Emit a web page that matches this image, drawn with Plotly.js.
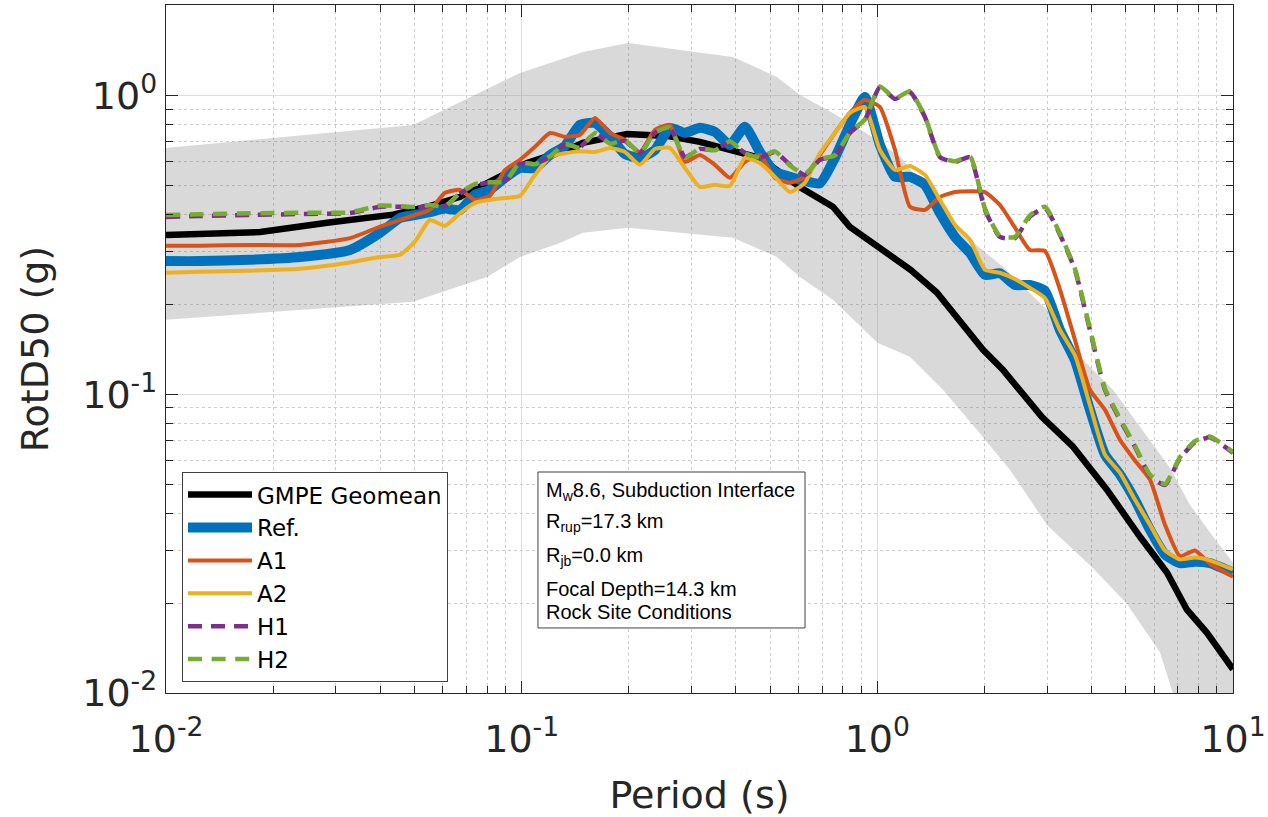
<!DOCTYPE html>
<html><head><meta charset="utf-8">
<script src="https://cdn.plot.ly/plotly-3.0.1.min.js"></script>
<style>html,body{margin:0;padding:0;background:#fff;} #chart{width:1268px;height:817px;}</style>
</head><body><div id="chart"></div>
<script>
// ---------- data ----------
const periods = [0.0100, 0.01246, 0.01722, 0.02381, 0.03291, 0.03998, 0.04549, 0.0501, 0.0552, 0.0609,
  0.0671, 0.0739, 0.0814, 0.0898, 0.0989, 0.1090, 0.1201, 0.1323, 0.1458, 0.1607,
  0.1771, 0.1951, 0.2150, 0.2370, 0.2611, 0.2877, 0.3171, 0.3494, 0.3850, 0.4243,
  0.4676, 0.5152, 0.5677, 0.6256, 0.6894, 0.7597, 0.8372, 0.9225, 1.017, 1.121,
  1.235, 1.361, 1.500, 1.653, 1.822, 2.007, 2.212, 2.438, 2.685, 2.959,
  3.262, 3.594, 3.960, 4.364, 4.809, 5.299, 5.840, 6.436, 7.092, 7.815, 8.612, 10.0];

const refVals = [0.279, 0.279, 0.282, 0.288, 0.304, 0.347, 0.389, 0.398, 0.407, 0.418,
  0.414, 0.465, 0.483, 0.530, 0.572, 0.572, 0.632, 0.677, 0.797, 0.809,
  0.729, 0.637, 0.618, 0.657, 0.779, 0.750, 0.779, 0.755, 0.683, 0.785,
  0.647, 0.555, 0.534, 0.517, 0.508, 0.618, 0.797, 0.989, 0.683, 0.534,
  0.534, 0.502, 0.404, 0.336, 0.297, 0.251, 0.254, 0.232, 0.232, 0.222,
  0.164, 0.130, 0.0887, 0.0628, 0.0539, 0.0444, 0.0352, 0.0291, 0.0272, 0.0275, 0.0272, 0.0253];

const a1Vals = [0.314, 0.314, 0.316, 0.316, 0.333, 0.364, 0.383, 0.398, 0.414, 0.472,
  0.483, 0.447, 0.461, 0.563, 0.609, 0.673, 0.749, 0.727, 0.738, 0.841,
  0.749, 0.710, 0.647, 0.767, 0.797, 0.599, 0.632, 0.586, 0.530, 0.599,
  0.632, 0.530, 0.510, 0.534, 0.632, 0.749, 0.874, 0.966, 0.914, 0.657,
  0.424, 0.414, 0.457, 0.475, 0.478, 0.475, 0.430, 0.361, 0.304, 0.302,
  0.224, 0.152, 0.1035, 0.0887, 0.0704, 0.0600, 0.0518, 0.0366, 0.0287, 0.0300, 0.0271, 0.0245];

const a2Vals = [0.255, 0.257, 0.259, 0.263, 0.276, 0.288, 0.293, 0.324, 0.383, 0.366,
  0.404, 0.437, 0.447, 0.454, 0.461, 0.542, 0.622, 0.641, 0.651, 0.647,
  0.667, 0.647, 0.586, 0.662, 0.667, 0.572, 0.494, 0.502, 0.498, 0.618,
  0.594, 0.534, 0.475, 0.510, 0.641, 0.749, 0.874, 0.914, 0.657, 0.563,
  0.581, 0.542, 0.447, 0.369, 0.329, 0.261, 0.255, 0.243, 0.227, 0.210,
  0.164, 0.135, 0.092, 0.0628, 0.0546, 0.0444, 0.0366, 0.0300, 0.0280, 0.0284, 0.0278, 0.0259];

const h1Vals = [0.392, 0.395, 0.398, 0.401, 0.404, 0.424, 0.424, 0.421, 0.427, 0.427,
  0.469, 0.502, 0.510, 0.517, 0.591, 0.591, 0.622, 0.683, 0.673, 0.744,
  0.694, 0.704, 0.642, 0.749, 0.779, 0.622, 0.662, 0.657, 0.699, 0.642,
  0.618, 0.647, 0.586, 0.542, 0.609, 0.627, 0.749, 0.828, 1.067, 0.973,
  1.027, 0.847, 0.622, 0.599, 0.622, 0.414, 0.336, 0.333, 0.393, 0.420,
  0.342, 0.261, 0.164, 0.1035, 0.0822, 0.0667, 0.0534, 0.0497, 0.0610, 0.0690, 0.0717, 0.0636];

const h2Vals = [0.398, 0.400, 0.403, 0.405, 0.406, 0.428, 0.426, 0.423, 0.430, 0.425,
  0.472, 0.505, 0.512, 0.515, 0.595, 0.588, 0.625, 0.688, 0.668, 0.748,
  0.690, 0.708, 0.640, 0.752, 0.782, 0.618, 0.665, 0.655, 0.702, 0.640,
  0.620, 0.650, 0.583, 0.545, 0.612, 0.630, 0.752, 0.832, 1.072, 0.978,
  1.032, 0.850, 0.625, 0.602, 0.626, 0.418, 0.338, 0.336, 0.397, 0.424,
  0.345, 0.263, 0.166, 0.1045, 0.0830, 0.0673, 0.0538, 0.0500, 0.0615, 0.0696, 0.0722, 0.0640];

const gmpePeriods = [0.01, 0.0184, 0.0284, 0.0435, 0.0542, 0.0672, 0.083, 0.1035, 0.134, 0.1485,
  0.198, 0.256, 0.317, 0.393, 0.468, 0.605, 0.75, 0.837, 1.0, 1.24, 1.47, 1.79, 1.98, 2.25,
  2.9, 3.55, 4.42, 5.47, 6.52, 7.42, 8.45, 10.0];
const gmpeVals = [0.341, 0.349, 0.375, 0.399, 0.424, 0.458, 0.521, 0.594, 0.657, 0.694,
  0.743, 0.732, 0.699, 0.657, 0.618, 0.494, 0.424, 0.363, 0.311, 0.261, 0.219, 0.164, 0.141, 0.121,
  0.084, 0.0667, 0.0479, 0.0334, 0.0253, 0.019, 0.0159, 0.012];

const bandUpperPeriods = [0.01, 0.0495, 0.0989, 0.1487, 0.199, 0.3926, 0.522, 0.606, 0.750, 1.0,
  1.180, 1.471, 1.822, 2.255, 2.998, 3.547, 4.596, 5.580, 6.647, 7.565, 8.781, 10.0];
const bandUpperVals = [0.667, 0.797, 1.189, 1.398, 1.498, 1.345, 1.153, 1.004, 0.874, 0.710,
  0.609, 0.437, 0.3286, 0.267, 0.1917, 0.1409, 0.1035, 0.0757, 0.0567, 0.0427, 0.0334, 0.0273];
const bandLowerPeriods = [0.01, 0.0495, 0.0799, 0.0989, 0.1281, 0.1487, 0.199, 0.3926, 0.522, 0.606,
  0.750, 1.0, 1.235, 1.529, 1.905, 2.359, 2.998, 4.037, 5.030, 6.230, 6.776, 10.0];
const bandLowerVals = [0.1775, 0.2039, 0.247, 0.288, 0.321, 0.3468, 0.3604, 0.3337, 0.288, 0.247,
  0.207, 0.1487, 0.1334, 0.1035, 0.0761, 0.0559, 0.0365, 0.0262, 0.0199, 0.0137, 0.0100, 0.005];

const seriesNames = ['GMPE Geomean', 'Ref.', 'A1', 'A2', 'H1', 'H2'];
const seriesColors = ['#000000', '#0072BD', '#D95319', '#EDB120', '#7E2F8E', '#77AC30'];

const xTickVals = [0.01, 0.1, 1, 10];
const xTickText = ['10<sup>-2</sup>', '10<sup>-1</sup>', '10<sup>0</sup>', '10<sup>1</sup>'];
const yTickVals = [0.01, 0.1, 1];
const yTickText = ['10<sup>-2</sup>', '10<sup>-1</sup>', '10<sup>0</sup>'];

const infoLines = ['M<sub>w</sub>8.6, Subduction Interface', 'R<sub>rup</sub>=17.3 km',
  'R<sub>jb</sub>=0.0 km', 'Focal Depth=14.3 km', 'Rock Site Conditions'];

const xTitle = 'Period (s)';
const yTitle = 'RotD50 (g)';

// ---------- minor tick positions (axis decoration) ----------
function minorTicks(decades) {
  const out = [];
  decades.forEach(d => { for (let k = 2; k <= 9; k++) out.push(+(k * d).toPrecision(3)); });
  return out;
}
const minorX = minorTicks([0.01, 0.1, 1]);
const minorY = minorTicks([0.01, 0.1, 1]);

// ---------- traces ----------
const bandX = bandUpperPeriods.concat(bandLowerPeriods.slice().reverse());
const bandY = bandUpperVals.concat(bandLowerVals.slice().reverse());

const traces = [
  { x: bandX, y: bandY, type: 'scatter', mode: 'lines', fill: 'toself',
    fillcolor: 'rgba(128,128,128,0.30)', line: { width: 0 }, showlegend: false, hoverinfo: 'skip' },
  { x: gmpePeriods, y: gmpeVals, name: seriesNames[0], type: 'scatter', mode: 'lines',
    line: { color: seriesColors[0], width: 6.5 } },
  { x: periods, y: refVals, name: seriesNames[1], type: 'scatter', mode: 'lines',
    line: { color: seriesColors[1], width: 10, shape: 'spline', smoothing: 0.5 } },
  { x: periods, y: a1Vals, name: seriesNames[2], type: 'scatter', mode: 'lines',
    line: { color: seriesColors[2], width: 4, shape: 'spline', smoothing: 0.5 } },
  { x: periods, y: a2Vals, name: seriesNames[3], type: 'scatter', mode: 'lines',
    line: { color: seriesColors[3], width: 4, shape: 'spline', smoothing: 0.5 } },
  { x: periods, y: h1Vals, name: seriesNames[4], type: 'scatter', mode: 'lines',
    line: { color: seriesColors[4], width: 4.5, dash: '14px,9px', shape: 'spline', smoothing: 0.5 } },
  { x: periods, y: h2Vals, name: seriesNames[5], type: 'scatter', mode: 'lines',
    line: { color: seriesColors[5], width: 4.5, dash: '14px,9.6px', shape: 'spline', smoothing: 0.5 } }
];

// ---------- layout ----------
const axisCommon = {
  type: 'log', showline: true, linecolor: '#262626', linewidth: 1.3, mirror: 'ticks',
  ticks: 'inside', ticklen: 12, tickwidth: 1.2, tickcolor: '#262626',
  tickmode: 'array', showgrid: true, gridcolor: '#dedede', gridwidth: 1.2,
  zeroline: false, tickfont: { family: 'DejaVu Sans', size: 38, color: '#262626' },
  automargin: false
};

const box = { x0: 0.3486, x1: 0.5989, y0: 0.0945, y1: 0.3212 };
const lineY = [0.2922, 0.2471, 0.1991, 0.1512, 0.1177];

const annotations = infoLines.map((t, i) => ({
  xref: 'paper', yref: 'paper', x: 0.3542, y: lineY[i], xanchor: 'left', yanchor: 'middle',
  text: t, showarrow: false, font: { family: 'Liberation Sans, Arial, sans-serif', size: 20, color: '#000' }
}));

const layout = {
  width: 1268, height: 817,
  margin: { l: 166, r: 35, t: 5, b: 124 },
  paper_bgcolor: '#ffffff', plot_bgcolor: '#ffffff',
  showlegend: true,
  xaxis: Object.assign({}, axisCommon, {
    range: [-2, 1], tickvals: xTickVals, ticktext: xTickText, ticklabelstandoff: 12,
    minor: { tickmode: 'array', tickvals: minorX, ticks: 'inside', ticklen: 7, tickwidth: 1, tickcolor: '#262626',
             showgrid: true, gridcolor: '#cccccc', griddash: 'dot', gridwidth: 1 },
    title: { text: xTitle, font: { family: 'DejaVu Sans', size: 38, color: '#262626' }, standoff: 26 }
  }),
  yaxis: Object.assign({}, axisCommon, {
    range: [-2, 0.3027], tickvals: yTickVals, ticktext: yTickText,
    minor: { tickmode: 'array', tickvals: minorY, ticks: 'inside', ticklen: 7, tickwidth: 1, tickcolor: '#262626',
             showgrid: true, gridcolor: '#cccccc', griddash: 'dot', gridwidth: 1 },
    title: { text: yTitle, font: { family: 'DejaVu Sans', size: 38, color: '#262626' }, standoff: 22 }
  }),
  legend: {
    x: 0.015, y: 0.321, xanchor: 'left', yanchor: 'top',
    bgcolor: '#ffffff', bordercolor: '#404040', borderwidth: 1,
    font: { family: 'DejaVu Sans', size: 23, color: '#000' },
    itemwidth: 64, tracegroupgap: 0, entrywidth: 262, entrywidthmode: 'pixels'
  },
  shapes: [{ type: 'rect', xref: 'paper', yref: 'paper', x0: box.x0, x1: box.x1, y0: box.y0, y1: box.y1,
    line: { color: '#404040', width: 1 }, fillcolor: '#ffffff', layer: 'above' }],
  annotations: annotations
};

Plotly.newPlot('chart', traces, layout, { displayModeBar: false, staticPlot: true });
</script>
</body></html>
